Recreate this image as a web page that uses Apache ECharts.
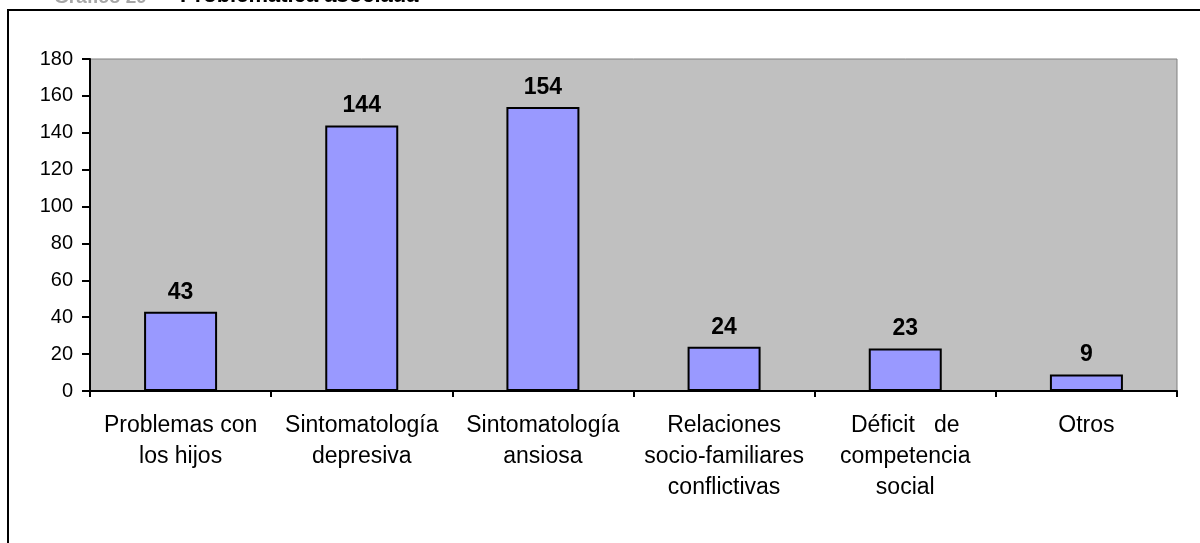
<!DOCTYPE html>
<html>
<head>
<meta charset="utf-8">
<script src="https://cdn.jsdelivr.net/npm/echarts@6/dist/echarts.min.js"></script>
<style>
  html, body { margin: 0; padding: 0; background: #fff; }
  #chart { width: 1200px; height: 543px; }
</style>
</head>
<body>
<div id="chart"></div>
<script>
const categories = [
  'Problemas con\nlos hijos',
  'Sintomatología\ndepresiva',
  'Sintomatología\nansiosa',
  'Relaciones\nsocio-familiares\nconflictivas',
  'Déficit   de\ncompetencia\nsocial',
  'Otros'
]
const values = [43, 144, 154, 24, 23, 9]
const yMin = 0
const yMax = 180
const yStep = 20

const font = '"Liberation Sans", Arial, sans-serif'
const myChart = echarts.init(document.getElementById('chart'))
myChart.setOption({
  animation: false,
  textStyle: { fontFamily: font },
  grid: {
    left: 90,
    right: 23,
    top: 59,
    bottom: 152,
    show: true,
    backgroundColor: '#C0C0C0',
    borderColor: '#808080',
    borderWidth: 1
  },
  graphic: [
    {
      type: 'rect',
      shape: { x: 8, y: 10, width: 1300, height: 700 },
      style: { fill: null, stroke: '#000', lineWidth: 2 }
    },
    {
      type: 'text',
      x: 54,
      y: 7,
      style: {
        text: 'Gráfico 29',
        font: 'bold 19px ' + font,
        fill: '#A6A6A6',
        textVerticalAlign: 'bottom'
      }
    },
    {
      type: 'text',
      x: 180,
      y: 7,
      style: {
        text: 'Problemática asociada',
        font: 'bold 22px ' + font,
        fill: '#000',
        textVerticalAlign: 'bottom'
      }
    }
  ],
  xAxis: {
    type: 'category',
    data: categories,
    boundaryGap: true,
    axisLine: { show: true, lineStyle: { color: '#000', width: 2 } },
    axisTick: { show: true, length: 6, lineStyle: { color: '#000', width: 2 } },
    axisLabel: {
      color: '#000',
      fontSize: 23,
      lineHeight: 31,
      margin: 19,
      interval: 0
    },
    splitLine: { show: false }
  },
  yAxis: {
    type: 'value',
    min: yMin,
    max: yMax,
    interval: yStep,
    axisLine: { show: true, lineStyle: { color: '#000', width: 2 } },
    axisTick: { show: true, length: 8, lineStyle: { color: '#000', width: 2 } },
    axisLabel: { color: '#000', fontSize: 20, margin: 17 },
    splitLine: { show: false }
  },
  series: [
    {
      type: 'bar',
      data: values,
      barWidth: 73,
      itemStyle: { color: '#9999FF', borderColor: '#000', borderWidth: 2 },
      label: {
        show: true,
        position: 'top',
        distance: 8,
        color: '#000',
        fontWeight: 'bold',
        fontSize: 23
      }
    }
  ]
})
</script>
</body>
</html>
